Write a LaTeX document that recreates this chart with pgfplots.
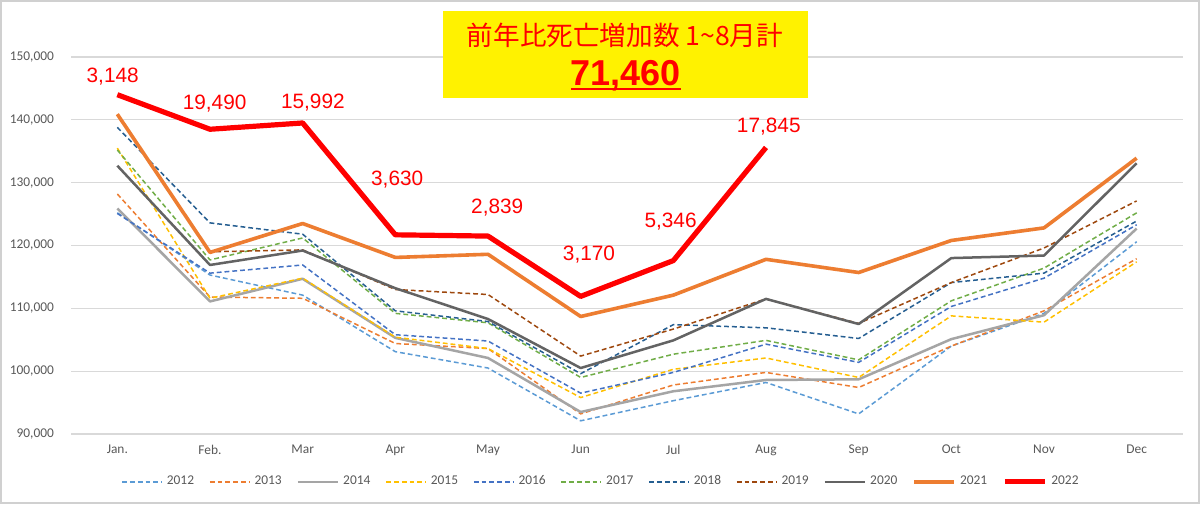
\documentclass[border=0pt]{standalone}
\usepackage{fontspec}
\setmainfont{Carlito}
\newfontfamily\arialf{Liberation Sans}
\newfontfamily\cjk{Noto Sans CJK JP}
\usepackage{pgfplots}
\usepackage{pgfplotstable}
\pgfplotsset{compat=1.18}
\definecolor{c2012}{HTML}{5B9BD5}
\definecolor{c2013}{HTML}{ED7D31}
\definecolor{c2014}{HTML}{A5A5A5}
\definecolor{c2015}{HTML}{FFC000}
\definecolor{c2016}{HTML}{4472C4}
\definecolor{c2017}{HTML}{70AD47}
\definecolor{c2018}{HTML}{255E91}
\definecolor{c2019}{HTML}{9E480E}
\definecolor{c2020}{HTML}{636363}
\definecolor{c2021}{HTML}{ED7D31}
\definecolor{c2022}{HTML}{FF0000}
\definecolor{gridgray}{HTML}{D9D9D9}
\definecolor{tickgray}{HTML}{595959}
\definecolor{framegray}{HTML}{D0D0D0}

\pgfplotstableread{
m  a2012  a2013  a2014  a2015  a2016  a2017  a2018  a2019  a2020  a2021  a2022
0  125200 128200 125900 135500 125100 135200 138800 140800 132700 140900 144000
1  115300 111800 111100 111600 115600 117700 123600 119000 116900 118900 138500
2  112100 111600 114700 114800 116900 121200 121800 119300 119200 123500 139500
3  103100 104400 105300 105400 105800 109200 109600 113000 113200 118100 121700
4  100500 103600 102100 103600 104800 107700 107900 112200 108300 118600 121500
5  92100  93200  93500  95800  96500  99000  99600  102400 100500 108700 111900
6  95300  97800  96800  100300 99800  102700 107400 106700 104900 112100 117600
7  98200  99800  98600  102100 104300 104900 106900 111500 111500 117800 135600
8  93200  97400  98700  99000  101400 101800 105200 107600 107500 115700 nan
9  104000 104000 105100 108800 110300 111200 114100 114100 118000 120800 nan
10 109200 109600 108900 107800 114800 116400 115600 119600 118400 122800 nan
11 120600 117900 122700 117400 123300 125200 123900 127100 133100 133900 nan
}\deaths

\begin{document}
\begin{tikzpicture}
\useasboundingbox (0,0) rectangle (600pt,252pt);
\fill[white] (0,0) rectangle (600pt,252pt);
\begin{axis}[
  at={(35.5pt,35pt)}, anchor=south west,
  width=556pt, height=188.5pt, scale only axis,
  xmin=-0.5, xmax=11.5, ymin=90000, ymax=150000,
  ytick={90000,100000,110000,120000,130000,140000,150000},
  xtick={0,...,11},
  xticklabels={Jan.,Feb.,Mar,Apr,May,Jun,Jul,Aug,Sep,Oct,Nov,Dec},
  axis x line=bottom, axis y line=left,
  axis line style={draw=none},
  major tick length=0pt,
  ymajorgrids, grid style={color=gridgray, line width=0.6pt},
  tick label style={font=\fontsize{6.7}{8}\selectfont, color=tickgray},
  xticklabel style={yshift=-2pt},
  yticklabel style={xshift=-5pt, /pgf/number format/fixed, /pgf/number format/1000 sep={,}},
  scaled y ticks=false,
  clip=false,
  line join=round,
  legend style={at={(0.4775,-0.127)}, anchor=center, legend columns=11,
    draw=none, fill=none, font=\fontsize{6.7}{8}\selectfont, text=tickgray,
    /tikz/every even column/.append style={column sep=5.5pt}},
  legend cell align=left,
  legend image code/.code={\draw[#1] (0pt,0pt) -- (20pt,0pt);},
  /pgf/number format/assume math mode=true,
]
\addplot[c2012, line width=0.75pt, dash pattern=on 2.4pt off 1.5pt, mark=none] table[x=m,y=a2012]{\deaths};
\addlegendentry{2012}
\addplot[c2013, line width=0.75pt, dash pattern=on 2.4pt off 1.5pt, mark=none] table[x=m,y=a2013]{\deaths};
\addlegendentry{2013}
\addplot[c2014, line width=1.25pt, mark=none] table[x=m,y=a2014]{\deaths};
\addlegendentry{2014}
\addplot[c2015, line width=0.75pt, dash pattern=on 2.4pt off 1.5pt, mark=none] table[x=m,y=a2015]{\deaths};
\addlegendentry{2015}
\addplot[c2016, line width=0.75pt, dash pattern=on 2.4pt off 1.5pt, mark=none] table[x=m,y=a2016]{\deaths};
\addlegendentry{2016}
\addplot[c2017, line width=0.75pt, dash pattern=on 2.4pt off 1.5pt, mark=none] table[x=m,y=a2017]{\deaths};
\addlegendentry{2017}
\addplot[c2018, line width=0.75pt, dash pattern=on 2.4pt off 1.5pt, mark=none] table[x=m,y=a2018]{\deaths};
\addlegendentry{2018}
\addplot[c2019, line width=0.75pt, dash pattern=on 2.4pt off 1.5pt, mark=none] table[x=m,y=a2019]{\deaths};
\addlegendentry{2019}
\addplot[c2020, line width=1.25pt, mark=none] table[x=m,y=a2020]{\deaths};
\addlegendentry{2020}
\addplot[c2021, line width=1.8pt, mark=none] table[x=m,y=a2021]{\deaths};
\addlegendentry{2021}
\addplot[c2022, line width=2.6pt, mark=none] table[x=m,y=a2022]{\deaths};
\addlegendentry{2022}

\begin{scope}[every node/.style={font=\arialf\fontsize{10.4}{12}\selectfont, text=c2022}]
\node at (axis cs:-0.05,146880) {3,148};
\node at (axis cs:1.05,142540) {19,490};
\node at (axis cs:2.11,142740) {15,992};
\node at (axis cs:3.02,130440) {3,630};
\node at (axis cs:4.10,125980) {2,839};
\node at (axis cs:5.09,118500) {3,170};
\node at (axis cs:5.97,123750) {5,346};
\node at (axis cs:7.03,138880) {17,845};
\end{scope}
\end{axis}

\fill[yellow] (221.5pt,203pt) rectangle (404pt,246.5pt);
\node[text=c2022, font=\cjk\fontsize{13.3}{15}\selectfont] at (312.5pt,234.5pt) {前年比死亡増加数 1\textasciitilde 8月計};
\node[text=c2022, font=\arialf\bfseries\fontsize{18}{20}\selectfont] at (312.75pt,214pt) {71,460};
\draw[c2022, line width=1pt] (285.5pt,207.5pt) -- (340.3pt,207.5pt);

\draw[framegray, line width=1pt] (0.5pt,0.5pt) rectangle (599.5pt,251.5pt);
\end{tikzpicture}
\end{document}
